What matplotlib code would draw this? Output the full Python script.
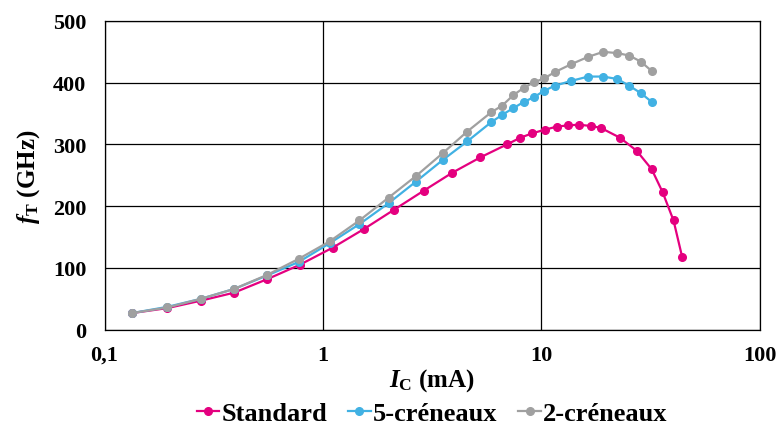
import matplotlib
matplotlib.use("Agg")
from matplotlib import pyplot as plt
from matplotlib.ticker import FixedLocator, FixedFormatter, NullLocator

# Data (Ic in mA, fT in GHz)
ic_std = [0.134, 0.194, 0.276, 0.392, 0.557, 0.782, 1.11, 1.54, 2.11, 2.89, 3.9,
          5.25, 6.95, 8.02, 9.07, 10.4, 11.8, 13.3, 14.9, 16.8, 18.7, 22.9, 27.3,
          32.0, 35.9, 40.3, 44.2]
ft_std = [27, 35, 47, 60, 82, 105, 133, 163, 194, 225, 254, 279, 300, 311, 318,
          324, 329, 331, 332, 330, 327, 311, 290, 260, 223, 177, 117]

ic_crn = [0.134, 0.194, 0.276, 0.392, 0.557, 0.777, 1.073, 1.47, 2.00, 2.67, 3.54,
          4.58, 5.89, 6.62, 7.45, 8.33, 9.29, 10.3, 11.5, 13.7, 16.4, 19.2, 22.3,
          25.3, 28.6, 32.0]
ft_5crn = [27, 37, 50, 66, 88, 110, 140, 171, 205, 240, 275, 305, 336, 348, 359,
           369, 377, 387, 395, 403, 410, 410, 406, 395, 383, 369]
ft_2crn = [27, 36, 50, 66, 89, 115, 143, 177, 214, 249, 286, 321, 352, 363, 380,
           392, 401, 407, 417, 430, 442, 450, 448, 444, 434, 419]

x_ticks = [0.1, 1, 10, 100]
x_labels = ['0,1', '1', '10', '100']
y_ticks = [0, 100, 200, 300, 400, 500]

plt.rcParams['font.family'] = ['Liberation Serif', 'DejaVu Serif']
plt.rcParams['font.weight'] = 'bold'
plt.rcParams['mathtext.fontset'] = 'custom'
plt.rcParams['mathtext.it'] = 'Liberation Serif:italic:bold'
plt.rcParams['mathtext.rm'] = 'Liberation Serif:bold'
plt.rcParams['mathtext.bf'] = 'Liberation Serif:bold'

fig = plt.figure(figsize=(7.8, 4.27), dpi=100)
ax = fig.add_axes([0.134, 0.2255, 0.84, 0.723])

ax.plot(ic_std, ft_std, color='#E4007F', marker='o', markersize=5.5, linewidth=1.6,
        label='Standard')
ax.plot(ic_crn, ft_5crn, color='#41B1E3', marker='o', markersize=5.5, linewidth=1.6,
        label='5-créneaux')
ax.plot(ic_crn, ft_2crn, color='#A0A0A0', marker='o', markersize=5.5, linewidth=1.6,
        label='2-créneaux')

ax.set_xscale('log')
ax.set_xlim(0.1, 100)
ax.set_ylim(0, 500)
ax.xaxis.set_major_locator(FixedLocator(x_ticks))
ax.xaxis.set_major_formatter(FixedFormatter(x_labels))
ax.xaxis.set_minor_locator(NullLocator())
ax.set_yticks(y_ticks)
ax.grid(True, color='black', linewidth=0.9)
ax.set_axisbelow(True)
ax.tick_params(length=0, labelsize=16)
ax.tick_params(axis='y', pad=13)
ax.tick_params(axis='x', pad=11)
for s in ax.spines.values():
    s.set_color('black')
    s.set_linewidth(0.9)

ax.set_xlabel(r'$I_{\mathrm{C}}$ (mA)', fontsize=18, fontweight='bold', labelpad=1)
ax.set_ylabel(r'$f_{\mathrm{T}}$ (GHz)', fontsize=18, fontweight='bold', labelpad=8)

ax.legend(loc='center', bbox_to_anchor=(0.5, -0.272), ncol=3, frameon=False,
          handlelength=0.85, handletextpad=0.08, columnspacing=0.8,
          borderpad=0.1, prop={'weight': 'bold', 'size': 19})

fig.savefig('out.png', dpi=100)
